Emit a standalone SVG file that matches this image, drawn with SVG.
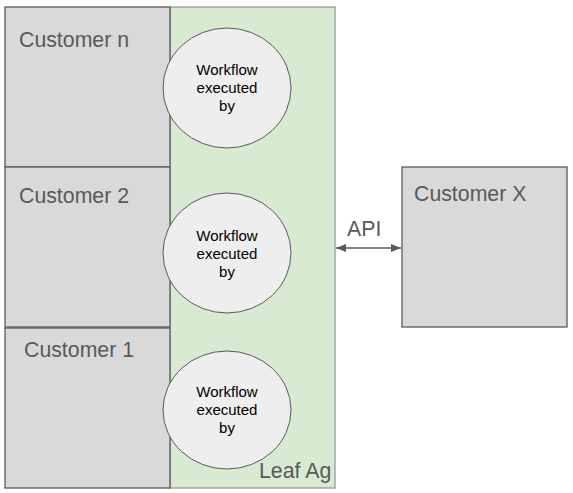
<svg xmlns="http://www.w3.org/2000/svg" width="573" height="493" viewBox="0 0 573 493">
<style>
.cust{fill:#d9d9d9;stroke:#595959;stroke-width:1.3}
.big{font-family:"Liberation Sans",Arial,sans-serif;font-size:21.3px;fill:#595959}
.wf{fill:#eeeeee;stroke:#595959;stroke-width:1}
.small{font-family:"Liberation Sans",Arial,sans-serif;font-size:15px;fill:#000;text-anchor:middle}
</style>
<defs>
<marker id="ah" viewBox="0 0 10 10" refX="10" refY="5" markerWidth="10" markerHeight="10" markerUnits="userSpaceOnUse" orient="auto-start-reverse">
<path d="M0,1 L10,5 L0,9 z" fill="#595959"/>
</marker>
</defs>
<rect width="573" height="493" fill="#ffffff"/>
<g id="leaf-ag">
<rect x="170" y="7" width="165" height="481" fill="#d9ead3" stroke="#999999" stroke-width="1.3"/>
<text class="big" x="259" y="478">Leaf Ag</text>
</g>
<g id="customer-n">
<rect class="cust" x="5" y="7" width="165" height="160"/>
<text class="big" x="19" y="47">Customer n</text>
</g>
<g id="customer-2">
<rect class="cust" x="5" y="167" width="165" height="160"/>
<text class="big" x="19" y="203">Customer 2</text>
</g>
<g id="customer-1">
<rect class="cust" x="5" y="328" width="165" height="160"/>
<text class="big" x="24" y="357">Customer 1</text>
</g>
<g id="workflow-n">
<ellipse class="wf" cx="227" cy="88" rx="64" ry="60"/>
<text class="small" x="227" y="75">Workflow</text>
<text class="small" x="227" y="93">executed</text>
<text class="small" x="227" y="111">by</text>
</g>
<g id="workflow-2">
<ellipse class="wf" cx="227" cy="253" rx="64" ry="60"/>
<text class="small" x="227" y="241">Workflow</text>
<text class="small" x="227" y="259">executed</text>
<text class="small" x="227" y="277">by</text>
</g>
<g id="workflow-1">
<ellipse class="wf" cx="227" cy="410" rx="64" ry="59"/>
<text class="small" x="227" y="397">Workflow</text>
<text class="small" x="227" y="415">executed</text>
<text class="small" x="227" y="433">by</text>
</g>
<g id="customer-x">
<rect class="cust" x="402" y="167" width="165" height="160"/>
<text class="big" x="414" y="201">Customer X</text>
</g>
<g id="connectors">
<line x1="336" y1="248" x2="401" y2="248" stroke="#595959" stroke-width="1.3" marker-start="url(#ah)" marker-end="url(#ah)"/>
<text class="big" x="347" y="236">API</text>
</g>
</svg>
